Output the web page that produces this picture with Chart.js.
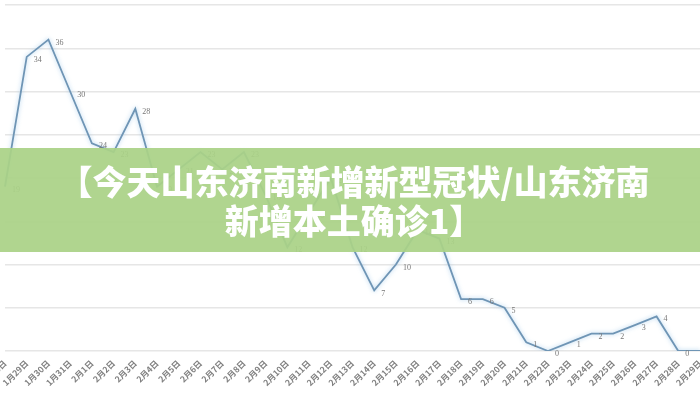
<!DOCTYPE html>
<html lang="zh-CN">
<head>
<meta charset="UTF-8">
<title>山东济南新增</title>
<script src="https://cdn.jsdelivr.net/npm/chart.js@4.4.0/dist/chart.umd.min.js"></script>
<style>
    html, body {
        margin: 0;
        padding: 0;
        background: #ffffff;
    }
    #contenedor {
        position: relative;
        width: 700px;
        height: 400px;
        overflow: hidden;
    }
    #banner {
        position: absolute;
        left: 0;
        top: 148px;
        width: 700px;
        height: 104px;
        background: rgba(170, 210, 134, 0.93);
        display: flex;
        align-items: center;
        justify-content: center;
        text-align: center;
        color: #ffffff;
        font-family: "Noto Sans CJK SC", "Noto Sans", sans-serif;
        font-weight: 900;
        font-size: 34px;
        line-height: 39px;
        padding-left: 8px;
        box-sizing: border-box;
    }
</style>
</head>
<body>
<div id="contenedor">
    <canvas id="casosChart"></canvas>
    <div id="banner">【今天山东济南新增新型冠状/山东济南<br>新增本土确诊1】</div>
</div>
<script>
// ========== DATOS ==========
const fechas = [
    '1月28日', '1月29日', '1月30日', '1月31日',
    '2月1日', '2月2日', '2月3日', '2月4日', '2月5日', '2月6日', '2月7日',
    '2月8日', '2月9日', '2月10日', '2月11日', '2月12日', '2月13日', '2月14日',
    '2月15日', '2月16日', '2月17日', '2月18日', '2月19日', '2月20日', '2月21日',
    '2月22日', '2月23日', '2月24日', '2月25日', '2月26日', '2月27日', '2月28日', '2月29日'
];
const nuevosCasos = [
    19, 34, 36, 30,
    24, 23, 28, 19, 21, 23, 21,
    23, 18, 12, 16, 20, 12, 7,
    10, 14, 13, 6, 6, 5, 1,
    0, 1, 2, 2, 3, 4, 0, 0
];
const ejeYMin = 0;
const ejeYMax = 40;
const ejeYPaso = 5;

// ========== PLUGINS ==========
// Sombra suave alrededor de la línea
const sombraLinea = {
    id: 'sombraLinea',
    beforeDatasetDraw(chart) {
        const ctx = chart.ctx;
        ctx.save();
        ctx.shadowColor = 'rgba(140, 190, 230, 0.7)';
        ctx.shadowBlur = 4;
    },
    afterDatasetDraw(chart) {
        chart.ctx.restore();
    }
};

// Etiquetas con el valor de cada punto
const etiquetasValores = {
    id: 'etiquetasValores',
    afterDatasetsDraw(chart) {
        const ctx = chart.ctx;
        const meta = chart.getDatasetMeta(0);
        const valores = chart.data.datasets[0].data;
        ctx.save();
        ctx.font = '8px "Liberation Serif", "DejaVu Serif", serif';
        ctx.fillStyle = '#777777';
        ctx.textAlign = 'left';
        ctx.textBaseline = 'middle';
        meta.data.forEach(function(punto, i) {
            ctx.fillText(String(valores[i]), punto.x + 7, punto.y + 3);
        });
        ctx.restore();
    }
};

// ========== GRÁFICO ==========
document.addEventListener('DOMContentLoaded', function() {
    const ctx = document.getElementById('casosChart').getContext('2d');
    new Chart(ctx, {
        type: 'line',
        data: {
            labels: fechas,
            datasets: [{
                label: '新增确诊',
                data: nuevosCasos,
                borderColor: '#6f95b5',
                borderWidth: 1.8,
                fill: false,
                tension: 0,
                pointRadius: 0
            }]
        },
        options: {
            responsive: true,
            maintainAspectRatio: false,
            animation: false,
            layout: {
                padding: { top: 5, left: 5, right: 0, bottom: 0 }
            },
            plugins: {
                legend: { display: false },
                tooltip: { enabled: false }
            },
            scales: {
                x: {
                    grid: { display: false, drawTicks: false },
                    border: { display: false },
                    ticks: {
                        autoSkip: false,
                        minRotation: 45,
                        maxRotation: 45,
                        padding: 7,
                        color: '#808080',
                        font: {
                            family: '"Noto Sans CJK SC", sans-serif',
                            size: 8.5,
                            weight: 'bold'
                        }
                    },
                    afterFit: function(scale) {
                        scale.paddingLeft = 0;
                        scale.paddingRight = 0;
                        scale.height = 49;
                    }
                },
                y: {
                    min: ejeYMin,
                    max: ejeYMax,
                    grid: {
                        color: '#e6e6e6',
                        lineWidth: 1.5,
                        drawTicks: false
                    },
                    border: { display: false },
                    ticks: {
                        display: false,
                        stepSize: ejeYPaso
                    }
                }
            }
        },
        plugins: [sombraLinea, etiquetasValores]
    });
});
</script>
</body>
</html>
